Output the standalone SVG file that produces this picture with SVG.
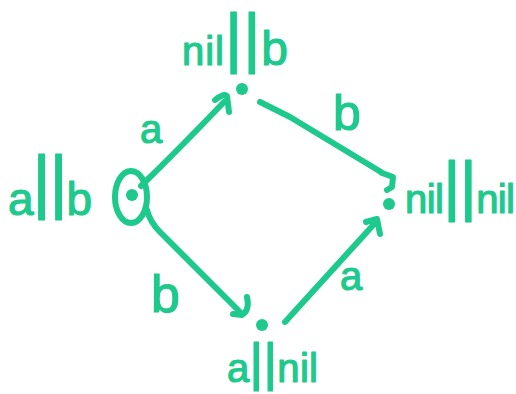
<svg xmlns="http://www.w3.org/2000/svg" width="516" height="394" viewBox="0 0 516 394">
<style>
.ln{stroke:#1dc98c;stroke-width:6;fill:none;stroke-linecap:round;stroke-linejoin:round}
.dot{fill:#1dc98c}
.tx{font-family:"Liberation Sans","DejaVu Sans",sans-serif;fill:#1dc98c;stroke:#1dc98c;stroke-width:1.2;stroke-linejoin:round}
</style>
<rect width="516" height="394" fill="#ffffff"/>
<g id="connectors">
  <g id="e-ab-nilb">
    <path class="ln" d="M141,186 Q180,148 224,102"/>
    <path class="ln" d="M215,100 Q224,93 227,96 L229,112"/>
    <text class="tx" x="140" y="143" font-size="40">a</text>
  </g>
  <g id="e-ab-anil">
    <path class="ln" d="M147,210 Q150,222 160,232 L240,312"/>
    <path class="ln" d="M247,297 Q250,310 242,315 L233,314"/>
    <text class="tx" x="151" y="312" font-size="52">b</text>
  </g>
  <g id="e-nilb-nilnil">
    <path class="ln" d="M260,102 L290,117 L381,172"/>
    <path class="ln" d="M382,173 L393,177 L392,187 L387,190"/>
    <text class="tx" x="333" y="130" font-size="50">b</text>
  </g>
  <g id="e-anil-nilnil">
    <path class="ln" d="M285,322 L376,222"/>
    <path class="ln" d="M366,222 L377,219 L380,234"/>
    <text class="tx" x="340" y="290" font-size="40">a</text>
  </g>
</g>
<g id="n-ab">
  <ellipse class="ln" cx="131" cy="197" rx="16" ry="26"/>
  <circle class="dot" cx="132" cy="195" r="6"/>
  <text class="tx" x="8" y="215" font-size="46" textLength="84" lengthAdjust="spacing">a<tspan font-size="70" dy="-10">||</tspan><tspan dy="10">b</tspan></text>
</g>
<g id="n-nilb">
  <circle class="dot" cx="242" cy="89" r="6"/>
  <text class="tx" x="182" y="65" font-size="40" textLength="106" lengthAdjust="spacing">nil<tspan font-size="66" dy="-5">||</tspan><tspan font-size="48" dy="5">b</tspan></text>
</g>
<g id="n-nilnil">
  <circle class="dot" cx="389" cy="204" r="6"/>
  <text class="tx" x="405" y="213" font-size="40" textLength="110" lengthAdjust="spacing">nil<tspan font-size="66" dy="-5">||</tspan><tspan dy="5">nil</tspan></text>
</g>
<g id="n-anil">
  <circle class="dot" cx="262" cy="325" r="6"/>
  <text class="tx" x="227" y="382" font-size="40" textLength="91" lengthAdjust="spacing">a<tspan font-size="52" dy="-2">||</tspan><tspan dy="2">nil</tspan></text>
</g>
</svg>
